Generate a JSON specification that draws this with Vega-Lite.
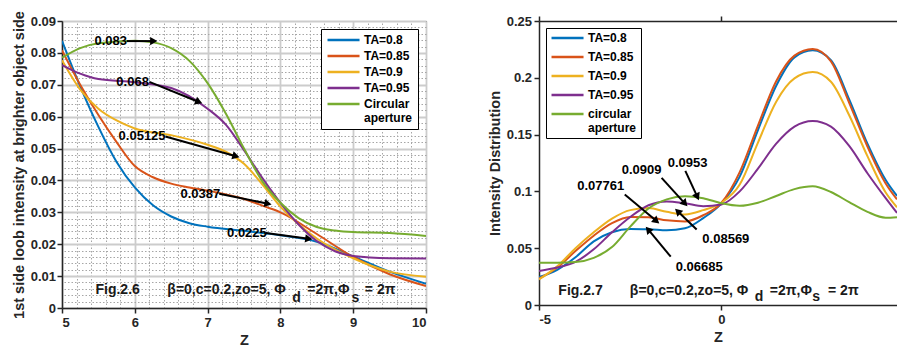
{
  "$schema": "https://vega.github.io/schema/vega-lite/v6.json",
  "padding": {"left": 10, "top": 10, "right": 0, "bottom": 0},
  "spacing": 59,
  "background": "white",
  "datasets": {
    "left": [
      {"series": "TA=0.8", "z": 5, "v": 0.0838}, {"series": "TA=0.8", "z": 5.25, "v": 0.0695}, {"series": "TA=0.8", "z": 5.5, "v": 0.0568}, {"series": "TA=0.8", "z": 5.75, "v": 0.0458}, {"series": "TA=0.8", "z": 6, "v": 0.0378}, {"series": "TA=0.8", "z": 6.25, "v": 0.0322}, {"series": "TA=0.8", "z": 6.5, "v": 0.0287}, {"series": "TA=0.8", "z": 6.75, "v": 0.0266}, {"series": "TA=0.8", "z": 7, "v": 0.0255}, {"series": "TA=0.8", "z": 7.5, "v": 0.0242}, {"series": "TA=0.8", "z": 8, "v": 0.0228}, {"series": "TA=0.8", "z": 8.5, "v": 0.0208}, {"series": "TA=0.8", "z": 9, "v": 0.0162}, {"series": "TA=0.8", "z": 9.5, "v": 0.0114}, {"series": "TA=0.8", "z": 10, "v": 0.0076},
      {"series": "TA=0.85", "z": 5, "v": 0.0808}, {"series": "TA=0.85", "z": 5.25, "v": 0.07}, {"series": "TA=0.85", "z": 5.5, "v": 0.0605}, {"series": "TA=0.85", "z": 5.75, "v": 0.052}, {"series": "TA=0.85", "z": 6, "v": 0.0445}, {"series": "TA=0.85", "z": 6.25, "v": 0.041}, {"series": "TA=0.85", "z": 6.5, "v": 0.039}, {"series": "TA=0.85", "z": 6.75, "v": 0.0378}, {"series": "TA=0.85", "z": 7, "v": 0.0368}, {"series": "TA=0.85", "z": 7.5, "v": 0.0342}, {"series": "TA=0.85", "z": 7.8, "v": 0.0317}, {"series": "TA=0.85", "z": 8, "v": 0.03}, {"series": "TA=0.85", "z": 8.5, "v": 0.0232}, {"series": "TA=0.85", "z": 9, "v": 0.016}, {"series": "TA=0.85", "z": 9.5, "v": 0.0106}, {"series": "TA=0.85", "z": 10, "v": 0.0069},
      {"series": "TA=0.9", "z": 5, "v": 0.0777}, {"series": "TA=0.9", "z": 5.25, "v": 0.0685}, {"series": "TA=0.9", "z": 5.5, "v": 0.0625}, {"series": "TA=0.9", "z": 5.75, "v": 0.0588}, {"series": "TA=0.9", "z": 6, "v": 0.0563}, {"series": "TA=0.9", "z": 6.5, "v": 0.0542}, {"series": "TA=0.9", "z": 7, "v": 0.0512}, {"series": "TA=0.9", "z": 7.25, "v": 0.049}, {"series": "TA=0.9", "z": 7.5, "v": 0.0452}, {"series": "TA=0.9", "z": 7.75, "v": 0.0388}, {"series": "TA=0.9", "z": 8, "v": 0.0318}, {"series": "TA=0.9", "z": 8.5, "v": 0.0218}, {"series": "TA=0.9", "z": 9, "v": 0.0156}, {"series": "TA=0.9", "z": 9.5, "v": 0.0114}, {"series": "TA=0.9", "z": 10, "v": 0.0098},
      {"series": "TA=0.95", "z": 5, "v": 0.0762}, {"series": "TA=0.95", "z": 5.25, "v": 0.0735}, {"series": "TA=0.95", "z": 5.5, "v": 0.0718}, {"series": "TA=0.95", "z": 6, "v": 0.0708}, {"series": "TA=0.95", "z": 6.5, "v": 0.069}, {"series": "TA=0.95", "z": 7, "v": 0.0625}, {"series": "TA=0.95", "z": 7.25, "v": 0.0575}, {"series": "TA=0.95", "z": 7.5, "v": 0.0495}, {"series": "TA=0.95", "z": 7.75, "v": 0.0408}, {"series": "TA=0.95", "z": 8, "v": 0.033}, {"series": "TA=0.95", "z": 8.25, "v": 0.0262}, {"series": "TA=0.95", "z": 8.5, "v": 0.021}, {"series": "TA=0.95", "z": 8.75, "v": 0.0178}, {"series": "TA=0.95", "z": 9, "v": 0.0163}, {"series": "TA=0.95", "z": 9.5, "v": 0.0156}, {"series": "TA=0.95", "z": 10, "v": 0.0155},
      {"series": "Circular aperture", "z": 5, "v": 0.0785}, {"series": "Circular aperture", "z": 5.25, "v": 0.0815}, {"series": "Circular aperture", "z": 5.5, "v": 0.083}, {"series": "Circular aperture", "z": 6, "v": 0.0838}, {"series": "Circular aperture", "z": 6.25, "v": 0.0833}, {"series": "Circular aperture", "z": 6.5, "v": 0.0815}, {"series": "Circular aperture", "z": 6.75, "v": 0.0775}, {"series": "Circular aperture", "z": 7, "v": 0.0705}, {"series": "Circular aperture", "z": 7.25, "v": 0.061}, {"series": "Circular aperture", "z": 7.5, "v": 0.05}, {"series": "Circular aperture", "z": 7.75, "v": 0.0398}, {"series": "Circular aperture", "z": 8, "v": 0.033}, {"series": "Circular aperture", "z": 8.25, "v": 0.0282}, {"series": "Circular aperture", "z": 8.5, "v": 0.0254}, {"series": "Circular aperture", "z": 8.75, "v": 0.0243}, {"series": "Circular aperture", "z": 9, "v": 0.0238}, {"series": "Circular aperture", "z": 9.5, "v": 0.0235}, {"series": "Circular aperture", "z": 10, "v": 0.0226}
    ],
    "right": [
      {"series": "TA=0.8", "z": -5, "v": 0.0245}, {"series": "TA=0.8", "z": -4.5, "v": 0.031}, {"series": "TA=0.8", "z": -4, "v": 0.042}, {"series": "TA=0.8", "z": -3.5, "v": 0.056}, {"series": "TA=0.8", "z": -3, "v": 0.064}, {"series": "TA=0.8", "z": -2.5, "v": 0.0668}, {"series": "TA=0.8", "z": -2, "v": 0.0667}, {"series": "TA=0.8", "z": -1.5, "v": 0.0658}, {"series": "TA=0.8", "z": -1, "v": 0.0675}, {"series": "TA=0.8", "z": -0.5, "v": 0.0765}, {"series": "TA=0.8", "z": 0, "v": 0.0895}, {"series": "TA=0.8", "z": 0.5, "v": 0.113}, {"series": "TA=0.8", "z": 1, "v": 0.154}, {"series": "TA=0.8", "z": 1.5, "v": 0.193}, {"series": "TA=0.8", "z": 2, "v": 0.218}, {"series": "TA=0.8", "z": 2.5, "v": 0.2242}, {"series": "TA=0.8", "z": 3, "v": 0.2155}, {"series": "TA=0.8", "z": 3.5, "v": 0.181}, {"series": "TA=0.8", "z": 4, "v": 0.142}, {"series": "TA=0.8", "z": 4.5, "v": 0.11}, {"series": "TA=0.8", "z": 4.81, "v": 0.096},
      {"series": "TA=0.85", "z": -5, "v": 0.0232}, {"series": "TA=0.85", "z": -4.5, "v": 0.033}, {"series": "TA=0.85", "z": -4, "v": 0.0475}, {"series": "TA=0.85", "z": -3.5, "v": 0.061}, {"series": "TA=0.85", "z": -3, "v": 0.072}, {"series": "TA=0.85", "z": -2.5, "v": 0.0774}, {"series": "TA=0.85", "z": -2, "v": 0.0772}, {"series": "TA=0.85", "z": -1.5, "v": 0.0745}, {"series": "TA=0.85", "z": -1, "v": 0.0735}, {"series": "TA=0.85", "z": -0.5, "v": 0.079}, {"series": "TA=0.85", "z": 0, "v": 0.09}, {"series": "TA=0.85", "z": 0.5, "v": 0.117}, {"series": "TA=0.85", "z": 1, "v": 0.158}, {"series": "TA=0.85", "z": 1.5, "v": 0.197}, {"series": "TA=0.85", "z": 2, "v": 0.2195}, {"series": "TA=0.85", "z": 2.5, "v": 0.2254}, {"series": "TA=0.85", "z": 3, "v": 0.2145}, {"series": "TA=0.85", "z": 3.5, "v": 0.178}, {"series": "TA=0.85", "z": 4, "v": 0.1395}, {"series": "TA=0.85", "z": 4.5, "v": 0.107}, {"series": "TA=0.85", "z": 4.81, "v": 0.093},
      {"series": "TA=0.9", "z": -5, "v": 0.0225}, {"series": "TA=0.9", "z": -4.5, "v": 0.034}, {"series": "TA=0.9", "z": -4, "v": 0.05}, {"series": "TA=0.9", "z": -3.5, "v": 0.064}, {"series": "TA=0.9", "z": -3, "v": 0.076}, {"series": "TA=0.9", "z": -2.5, "v": 0.0835}, {"series": "TA=0.9", "z": -2, "v": 0.0853}, {"series": "TA=0.9", "z": -1.5, "v": 0.082}, {"series": "TA=0.9", "z": -1, "v": 0.0797}, {"series": "TA=0.9", "z": -0.5, "v": 0.0835}, {"series": "TA=0.9", "z": 0, "v": 0.09}, {"series": "TA=0.9", "z": 0.5, "v": 0.106}, {"series": "TA=0.9", "z": 1, "v": 0.143}, {"series": "TA=0.9", "z": 1.5, "v": 0.179}, {"series": "TA=0.9", "z": 2, "v": 0.1995}, {"series": "TA=0.9", "z": 2.5, "v": 0.205}, {"series": "TA=0.9", "z": 3, "v": 0.1965}, {"series": "TA=0.9", "z": 3.5, "v": 0.167}, {"series": "TA=0.9", "z": 4, "v": 0.131}, {"series": "TA=0.9", "z": 4.5, "v": 0.099}, {"series": "TA=0.9", "z": 4.81, "v": 0.086},
      {"series": "TA=0.95", "z": -5, "v": 0.03}, {"series": "TA=0.95", "z": -4.5, "v": 0.033}, {"series": "TA=0.95", "z": -4, "v": 0.038}, {"series": "TA=0.95", "z": -3.5, "v": 0.049}, {"series": "TA=0.95", "z": -3, "v": 0.064}, {"series": "TA=0.95", "z": -2.5, "v": 0.0775}, {"series": "TA=0.95", "z": -2, "v": 0.0878}, {"series": "TA=0.95", "z": -1.5, "v": 0.0912}, {"series": "TA=0.95", "z": -1, "v": 0.0895}, {"series": "TA=0.95", "z": -0.5, "v": 0.087}, {"series": "TA=0.95", "z": 0, "v": 0.0885}, {"series": "TA=0.95", "z": 0.5, "v": 0.1}, {"series": "TA=0.95", "z": 1, "v": 0.12}, {"series": "TA=0.95", "z": 1.5, "v": 0.142}, {"series": "TA=0.95", "z": 2, "v": 0.157}, {"series": "TA=0.95", "z": 2.5, "v": 0.162}, {"series": "TA=0.95", "z": 3, "v": 0.157}, {"series": "TA=0.95", "z": 3.5, "v": 0.14}, {"series": "TA=0.95", "z": 4, "v": 0.116}, {"series": "TA=0.95", "z": 4.5, "v": 0.094}, {"series": "TA=0.95", "z": 4.81, "v": 0.081},
      {"series": "circular aperture", "z": -5, "v": 0.0372}, {"series": "circular aperture", "z": -4.5, "v": 0.0372}, {"series": "circular aperture", "z": -4, "v": 0.0378}, {"series": "circular aperture", "z": -3.5, "v": 0.0415}, {"series": "circular aperture", "z": -3, "v": 0.051}, {"series": "circular aperture", "z": -2.5, "v": 0.069}, {"series": "circular aperture", "z": -2, "v": 0.085}, {"series": "circular aperture", "z": -1.5, "v": 0.093}, {"series": "circular aperture", "z": -1, "v": 0.0958}, {"series": "circular aperture", "z": -0.5, "v": 0.094}, {"series": "circular aperture", "z": 0, "v": 0.0895}, {"series": "circular aperture", "z": 0.5, "v": 0.0873}, {"series": "circular aperture", "z": 1, "v": 0.09}, {"series": "circular aperture", "z": 1.5, "v": 0.096}, {"series": "circular aperture", "z": 2, "v": 0.102}, {"series": "circular aperture", "z": 2.5, "v": 0.1045}, {"series": "circular aperture", "z": 3, "v": 0.0995}, {"series": "circular aperture", "z": 3.5, "v": 0.0905}, {"series": "circular aperture", "z": 4, "v": 0.082}, {"series": "circular aperture", "z": 4.5, "v": 0.0768}, {"series": "circular aperture", "z": 4.81, "v": 0.0773}
    ],
    "leftNotes": [
      {"label": "0.083", "z": 5.67, "v": 0.0837},
      {"label": "0.068", "z": 5.97, "v": 0.0709},
      {"label": "0.05125", "z": 6.1, "v": 0.0538},
      {"label": "0.0387", "z": 6.9, "v": 0.0358},
      {"label": "0.0225", "z": 7.54, "v": 0.0235}
    ],
    "leftArrows": [
      {"z": 5.89, "v": 0.0837, "z2": 6.26, "v2": 0.0837, "angle": 0},
      {"z": 6.2, "v": 0.0709, "z2": 6.88, "v2": 0.0646, "angle": 21.8},
      {"z": 6.42, "v": 0.0538, "z2": 7.39, "v2": 0.0476, "angle": 15.9},
      {"z": 7.16, "v": 0.0358, "z2": 7.83, "v2": 0.0327, "angle": 11.5},
      {"z": 7.8, "v": 0.0235, "z2": 8.39, "v2": 0.0217, "angle": 7.5}
    ],
    "leftFig": [
      {"label": "Fig.2.6", "z": 5.46, "v": 0.0044},
      {"label": "β=0,c=0.2,zo=5, Φ", "z": 6.447, "v": 0.0044},
      {"label": "d", "z": 8.163, "v": 0.0019},
      {"label": "=2π,Φ", "z": 8.37, "v": 0.0044},
      {"label": "s", "z": 8.975, "v": 0.0019},
      {"label": "= 2π", "z": 9.16, "v": 0.0044}
    ],
    "rightNotes": [
      {"label": "0.0909", "z": -2.19, "v": 0.1192},
      {"label": "0.0953", "z": -0.93, "v": 0.1254},
      {"label": "0.07761", "z": -3.31, "v": 0.1046},
      {"label": "0.08569", "z": 0.12, "v": 0.058},
      {"label": "0.06685", "z": -0.61, "v": 0.0337}
    ],
    "rightArrows": [
      {"z": -1.64, "v": 0.1119, "z2": -1.0, "v2": 0.0893, "angle": 47.7},
      {"z": -0.99, "v": 0.1181, "z2": -0.66, "v2": 0.0952, "angle": 65.2},
      {"z": -2.65, "v": 0.0973, "z2": -1.78, "v2": 0.0739, "angle": 40.1},
      {"z": -0.68, "v": 0.0665, "z2": -1.2, "v2": 0.0826, "angle": 224.1},
      {"z": -1.39, "v": 0.0425, "z2": -2.01, "v2": 0.0665, "angle": 230.3}
    ],
    "rightFig": [
      {"label": "Fig.2.7", "z": -4.47, "v": 0.0088},
      {"label": "β=0,c=0.2,zo=5, Φ", "z": -2.51, "v": 0.0088},
      {"label": "d", "z": 0.915, "v": 0.0035},
      {"label": "=2π,Φ", "z": 1.325, "v": 0.0088},
      {"label": "s", "z": 2.49, "v": 0.0035},
      {"label": "= 2π", "z": 2.92, "v": 0.0088}
    ]
  },
  "hconcat": [
    {
      "width": 364,
      "height": 287,
      "view": {"stroke": "#262626"},
      "layer": [
        {
          "data": {"name": "left"},
          "mark": {"type": "line", "strokeWidth": 2, "interpolate": "monotone", "clip": true},
          "encoding": {
            "x": {"field": "z", "type": "quantitative", "scale": {"domain": [5, 10], "nice": false, "zero": false},
              "axis": {"orient": "bottom", "title": "Z", "values": [5, 6, 7, 8, 9, 10], "grid": true, "gridColor": "#cccccc", "gridWidth": 1.8, "gridOpacity": 1, "labelPadding": 3, "titlePadding": 4,
                "encode": {"ticks": {"update": {"y2": {"value": -5}}}}}},
            "y": {"field": "v", "type": "quantitative", "scale": {"domain": [0, 0.09], "nice": false, "zero": false},
              "axis": {"orient": "left", "title": "1st side loob intensity at brighter object side", "values": [0, 0.01, 0.02, 0.03, 0.04, 0.05, 0.06, 0.07, 0.08, 0.09], "format": "~g", "grid": true, "gridColor": "#cccccc", "gridWidth": 1.8, "gridOpacity": 1, "labelPadding": 1.5, "titlePadding": 4,
                "encode": {"ticks": {"update": {"x2": {"value": 5}}}}}},
            "color": {"field": "series", "type": "nominal",
              "scale": {"domain": ["TA=0.8", "TA=0.85", "TA=0.9", "TA=0.95", "Circular aperture"], "range": ["#0072BD", "#D95319", "#EDB120", "#7E2F8E", "#77AC30"]},
              "legend": {"title": null, "orient": "top-right", "offset": 8, "symbolType": "M-1.4,0H8.6", "symbolSize": 41, "symbolStrokeWidth": 2.5, "labelOffset": 26, "labelFont": "Liberation Sans", "labelFontWeight": "bold", "labelFontSize": 12, "labelColor": "#000", "strokeColor": "#000", "fillColor": "#fff", "padding": 5, "rowPadding": 4,
                "labelExpr": "datum.label == 'Circular aperture' ? ['Circular', 'aperture'] : datum.label == 'TA=0.95' ? '\u00a0TA=0.95' : datum.label"}}
          }
        },
        {
          "data": {"name": "leftArrows"},
          "mark": {"type": "rule", "strokeWidth": 2, "color": "#000"},
          "encoding": {
            "x": {"field": "z", "type": "quantitative", "scale": {"domain": [5, 10], "nice": false, "zero": false},
              "axis": {"orient": "top", "title": null, "labels": false, "ticks": false, "domain": false, "grid": true, "gridDash": [1.5, 2], "gridColor": "#a6a6a6", "gridWidth": 1, "gridOpacity": 1,
                "values": [5.2, 5.4, 5.6, 5.8, 6.2, 6.4, 6.6, 6.8, 7.2, 7.4, 7.6, 7.8, 8.2, 8.4, 8.6, 8.8, 9.2, 9.4, 9.6, 9.8]}},
            "y": {"field": "v", "type": "quantitative", "scale": {"domain": [0, 0.09], "nice": false, "zero": false},
              "axis": {"orient": "right", "title": null, "labels": false, "ticks": false, "domain": false, "grid": true, "gridDash": [1.5, 2], "gridColor": "#a6a6a6", "gridWidth": 1, "gridOpacity": 1,
                "values": [0.002, 0.004, 0.006, 0.008, 0.012, 0.014, 0.016, 0.018, 0.022, 0.024, 0.026, 0.028, 0.032, 0.034, 0.036, 0.038, 0.042, 0.044, 0.046, 0.048, 0.052, 0.054, 0.056, 0.058, 0.062, 0.064, 0.066, 0.068, 0.072, 0.074, 0.076, 0.078, 0.082, 0.084, 0.086, 0.088]}},
            "x2": {"field": "z2"},
            "y2": {"field": "v2"}
          }
        },
        {
          "data": {"name": "leftArrows"},
          "mark": {"type": "point", "shape": "triangle-right", "filled": true, "color": "#000", "size": 70, "opacity": 1},
          "encoding": {
            "x": {"field": "z2", "type": "quantitative", "axis": null},
            "y": {"field": "v2", "type": "quantitative", "axis": null},
            "angle": {"field": "angle", "type": "quantitative", "scale": null}
          }
        },
        {
          "data": {"name": "leftNotes"},
          "mark": {"type": "text", "font": "Liberation Sans", "fontWeight": "bold", "fontSize": 13, "color": "#000", "align": "center", "baseline": "middle"},
          "encoding": {
            "x": {"field": "z", "type": "quantitative", "axis": null},
            "y": {"field": "v", "type": "quantitative", "axis": null},
            "text": {"field": "label"}
          }
        },
        {
          "data": {"name": "leftFig"},
          "mark": {"type": "text", "font": "Liberation Sans", "fontWeight": "bold", "fontSize": 14, "color": "#1a1a1a", "align": "left", "baseline": "alphabetic"},
          "encoding": {
            "x": {"field": "z", "type": "quantitative", "axis": null},
            "y": {"field": "v", "type": "quantitative", "axis": null},
            "text": {"field": "label"}
          }
        }
      ],
      "resolve": {"axis": {"x": "independent", "y": "independent"}}
    },
    {
      "width": 358,
      "height": 284,
      "view": {"stroke": null},
      "layer": [
        {
          "data": {"name": "right"},
          "mark": {"type": "line", "strokeWidth": 2, "interpolate": "monotone", "clip": true},
          "encoding": {
            "x": {"field": "z", "type": "quantitative", "scale": {"domain": [-5, 4.81], "nice": false, "zero": false},
              "axis": {"orient": "bottom", "title": "Z", "values": [-5, 0], "labelExpr": "'' + datum.value", "grid": false, "labelPadding": 3, "titlePadding": 4,
                "encode": {"ticks": {"update": {"y2": {"value": -5}}}}}},
            "y": {"field": "v", "type": "quantitative", "scale": {"domain": [0, 0.25], "nice": false, "zero": false},
              "axis": {"orient": "left", "title": "Intensity Distribution", "values": [0, 0.05, 0.1, 0.15, 0.2, 0.25], "format": "~g", "grid": false, "labelPadding": 2.5, "titlePadding": 4,
                "encode": {"ticks": {"update": {"x2": {"value": 5}}}}}},
            "color": {"field": "series", "type": "nominal",
              "scale": {"domain": ["TA=0.8", "TA=0.85", "TA=0.9", "TA=0.95", "circular aperture"], "range": ["#0072BD", "#D95319", "#EDB120", "#7E2F8E", "#77AC30"]},
              "legend": {"title": null, "orient": "top-left", "offset": 7, "symbolType": "M-1.4,0H8.6", "symbolSize": 41, "symbolStrokeWidth": 2.5, "labelOffset": 26, "labelFont": "Liberation Sans", "labelFontWeight": "bold", "labelFontSize": 12, "labelColor": "#000", "strokeColor": "#000", "fillColor": "#fff", "padding": 4, "rowPadding": 7,
                "labelExpr": "datum.label == 'circular aperture' ? ['circular', 'aperture'] : datum.label == 'TA=0.95' ? '\u00a0TA=0.95' : datum.label"}}
          }
        },
        {
          "data": {"name": "rightArrows"},
          "mark": {"type": "rule", "strokeWidth": 2, "color": "#000"},
          "encoding": {
            "x": {"field": "z", "type": "quantitative", "scale": {"domain": [-5, 4.81], "nice": false, "zero": false},
              "axis": {"orient": "top", "title": null, "labels": false, "ticks": true, "domain": true, "grid": false, "values": [-5, 0],
                "encode": {"ticks": {"update": {"y2": {"value": 5}}}}}},
            "y": {"field": "v", "type": "quantitative", "scale": {"domain": [0, 0.25], "nice": false, "zero": false}, "axis": null},
            "x2": {"field": "z2"},
            "y2": {"field": "v2"}
          }
        },
        {
          "data": {"name": "rightArrows"},
          "mark": {"type": "point", "shape": "triangle-right", "filled": true, "color": "#000", "size": 70, "opacity": 1},
          "encoding": {
            "x": {"field": "z2", "type": "quantitative", "axis": null},
            "y": {"field": "v2", "type": "quantitative", "axis": null},
            "angle": {"field": "angle", "type": "quantitative", "scale": null}
          }
        },
        {
          "data": {"name": "rightNotes"},
          "mark": {"type": "text", "font": "Liberation Sans", "fontWeight": "bold", "fontSize": 13, "color": "#000", "align": "center", "baseline": "middle"},
          "encoding": {
            "x": {"field": "z", "type": "quantitative", "axis": null},
            "y": {"field": "v", "type": "quantitative", "axis": null},
            "text": {"field": "label"}
          }
        },
        {
          "data": {"name": "rightFig"},
          "mark": {"type": "text", "font": "Liberation Sans", "fontWeight": "bold", "fontSize": 14, "color": "#1a1a1a", "align": "left", "baseline": "alphabetic"},
          "encoding": {
            "x": {"field": "z", "type": "quantitative", "axis": null},
            "y": {"field": "v", "type": "quantitative", "axis": null},
            "text": {"field": "label"}
          }
        }
      ],
      "resolve": {"axis": {"x": "independent", "y": "independent"}}
    }
  ],
  "resolve": {"scale": {"color": "independent"}, "legend": {"color": "independent"}},
  "config": {
    "font": "Liberation Sans",
    "axis": {
      "labelFont": "Liberation Sans", "labelFontWeight": "bold", "labelFontSize": 13, "labelColor": "#262626",
      "titleFont": "Liberation Sans", "titleFontWeight": "bold", "titleFontSize": 14.5, "titleColor": "#262626",
      "domainColor": "#262626", "domainWidth": 1.5, "tickColor": "#262626", "tickWidth": 1.5, "tickSize": 5
    }
  }
}
